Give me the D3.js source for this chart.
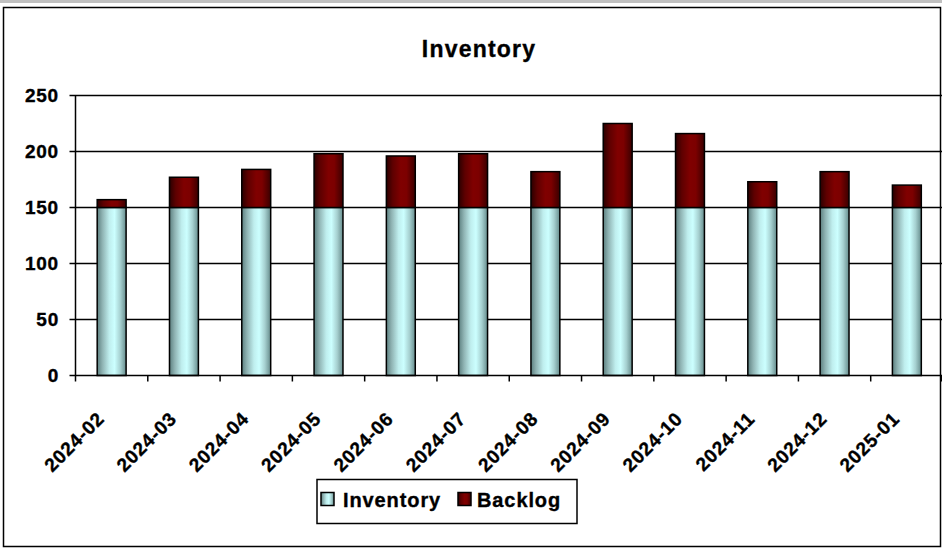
<!DOCTYPE html>
<html lang="en">
<head>
<meta charset="utf-8">
<title>Inventory</title>
<script src="https://d3js.org/d3.v7.min.js"></script>
<style>
  body { margin: 0; background: #fff; }
  svg text { font-family: "Liberation Sans", Arial, sans-serif; font-weight: bold; fill: #000;
             stroke: #000; stroke-width: 0.35px; }
</style>
</head>
<body>
<div id="chart"></div>
<script>
// data
var months = ["2024-02", "2024-03", "2024-04", "2024-05", "2024-06", "2024-07",
              "2024-08", "2024-09", "2024-10", "2024-11", "2024-12", "2025-01"];
var inventory = [150, 150, 150, 150, 150, 150, 150, 150, 150, 150, 150, 150];
var backlog = [7, 27, 34, 48, 46, 48, 32, 75, 66, 23, 32, 20];
var seriesNames = ["Inventory", "Backlog"];
var yTicks = [0, 50, 100, 150, 200, 250];

var width = 942, height = 548;
var plotLeft = 75.5, plotRight = 943, plotTop = 95.5, plotBottom = 375.5;

var svg = d3.select("#chart").append("svg")
  .attr("width", width)
  .attr("height", height);

// gradients (cylinder look)
var defs = svg.append("defs");
function addGrad(id, stops) {
  var g = defs.append("linearGradient").attr("id", id)
    .attr("x1", "0%").attr("x2", "100%").attr("y1", "0%").attr("y2", "0%");
  stops.forEach(function(s) {
    g.append("stop").attr("offset", s[0]).attr("stop-color", s[1]);
  });
}
addGrad("gInv", [["0%", "#5c7f7f"], ["18%", "#8fb3b3"], ["42%", "#bfeeee"], ["60%", "#ccffff"], ["80%", "#a6d0d0"], ["100%", "#668c8c"]]);
addGrad("gBack", [["0%", "#2a0000"], ["22%", "#5e0000"], ["50%", "#800000"], ["70%", "#7c0000"], ["100%", "#3a0000"]]);

// top band and outer frame
svg.append("rect").attr("x", 0).attr("y", 0).attr("width", width).attr("height", 3).attr("fill", "#c0c0c0");
svg.append("rect").attr("x", 3.5).attr("y", 7.5).attr("width", 937).attr("height", 539)
  .attr("fill", "none").attr("stroke", "#000").attr("stroke-width", 1.5);

var x = d3.scaleBand().domain(months).range([plotLeft, plotRight])
  .paddingInner(0.6).paddingOuter(0.3);
var step = x.step();
var y = d3.scaleLinear().domain([0, 250]).range([plotBottom, plotTop]);

// title
svg.append("text")
  .attr("x", 479).attr("y", 57)
  .attr("text-anchor", "middle")
  .style("font-size", "23px")
  .style("letter-spacing", "1.2px")
  .text("Inventory");

// gridlines + y ticks
svg.append("g").selectAll("line").data(yTicks.filter(function(d) { return d > 0; }))
  .enter().append("line")
  .attr("x1", plotLeft - 6).attr("x2", plotRight)
  .attr("y1", function(d) { return y(d); }).attr("y2", function(d) { return y(d); })
  .attr("stroke", "#000").attr("stroke-width", 1.5);

svg.append("g").selectAll("text").data(yTicks)
  .enter().append("text")
  .attr("x", 59)
  .attr("y", function(d) { return y(d); })
  .attr("dy", "0.36em")
  .attr("text-anchor", "end")
  .style("font-size", "19px")
  .style("letter-spacing", "0.8px")
  .text(function(d) { return d; });

// stacked bars
var stack = months.map(function(m, i) {
  return { month: m, inv: inventory[i], back: backlog[i] };
});

var bars = svg.append("g").selectAll("g").data(stack).enter().append("g");
bars.append("rect")
  .attr("x", function(d) { return x(d.month); })
  .attr("width", x.bandwidth())
  .attr("y", function(d) { return y(d.inv); })
  .attr("height", function(d) { return y(0) - y(d.inv); })
  .attr("fill", "url(#gInv)")
  .attr("stroke", "#000").attr("stroke-width", 1.5);
bars.append("rect")
  .attr("x", function(d) { return x(d.month); })
  .attr("width", x.bandwidth())
  .attr("y", function(d) { return y(d.inv + d.back); })
  .attr("height", function(d) { return y(d.inv) - y(d.inv + d.back); })
  .attr("fill", "url(#gBack)")
  .attr("stroke", "#000").attr("stroke-width", 1.5);

// axes lines
svg.append("line").attr("x1", plotLeft).attr("x2", plotLeft)
  .attr("y1", plotTop).attr("y2", plotBottom + 0.5)
  .attr("stroke", "#000").attr("stroke-width", 1.5);
svg.append("line").attr("x1", plotLeft - 6).attr("x2", plotRight)
  .attr("y1", plotBottom).attr("y2", plotBottom)
  .attr("stroke", "#000").attr("stroke-width", 1.5);

// x ticks at category boundaries
var bounds = months.map(function(m) { return x(m) - step * 0.3; }).concat([plotRight - 1.5]);
svg.append("g").selectAll("line").data(bounds).enter().append("line")
  .attr("x1", function(d) { return d; }).attr("x2", function(d) { return d; })
  .attr("y1", plotBottom).attr("y2", plotBottom + 6)
  .attr("stroke", "#000").attr("stroke-width", 1.5);

// x labels rotated
svg.append("g").selectAll("text").data(months).enter().append("text")
  .attr("transform", function(m) {
    var cx = x(m) + x.bandwidth() / 2 - 11;
    return "translate(" + cx + "," + 415 + ") rotate(-45)";
  })
  .attr("text-anchor", "end")
  .attr("dy", "0.36em")
  .style("font-size", "19px")
  .style("letter-spacing", "0.8px")
  .text(function(m) { return m; });

// legend
var legend = svg.append("g");
legend.append("rect").attr("x", 317).attr("y", 479.5).attr("width", 260).attr("height", 44)
  .attr("fill", "#fff").attr("stroke", "#000").attr("stroke-width", 1.5);
var legendItems = [
  { name: seriesNames[0], fill: "url(#gInv)", sx: 321, tx: 343 },
  { name: seriesNames[1], fill: "url(#gBack)", sx: 458, tx: 477 }
];
legendItems.forEach(function(it) {
  legend.append("rect").attr("x", it.sx).attr("y", 492.5).attr("width", 13).attr("height", 13)
    .attr("fill", it.fill).attr("stroke", "#000").attr("stroke-width", 1.5);
  legend.append("text").attr("x", it.tx).attr("y", 507)
    .style("font-size", "20px")
    .style("letter-spacing", "0.9px")
    .text(it.name);
});
</script>
</body>
</html>
